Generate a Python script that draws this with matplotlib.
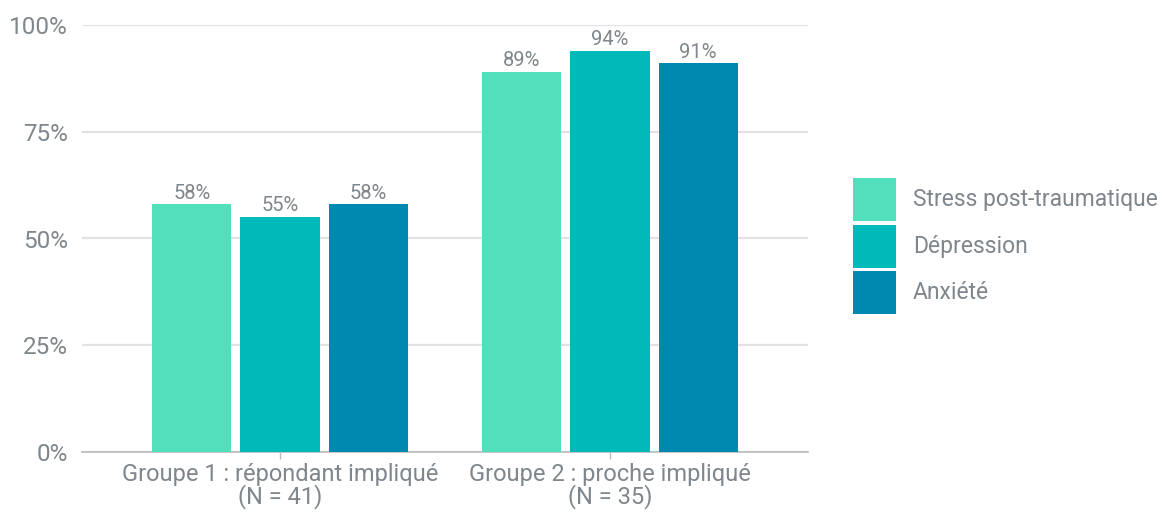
import matplotlib
matplotlib.use("Agg")
import matplotlib.pyplot as plt
import numpy as np

categories = ["Groupe 1 : répondant impliqué\n(N = 41)", "Groupe 2 : proche impliqué\n(N = 35)"]
series_names = ["Stress post-traumatique", "Dépression", "Anxiété"]
stress = [58, 89]
depression = [55, 94]
anxiete = [58, 91]
colors = ["#52E0BC", "#00B9B9", "#0089B0"]
yticks = [0, 25, 50, 75, 100]
ytick_labels = ["0%", "25%", "50%", "75%", "100%"]

plt.rcParams['font.family'] = ['Roboto', 'DejaVu Sans']
text_color = "#7F868C"

W, H = 1162, 512
fig = plt.figure(figsize=(W / 100, H / 100), dpi=100)
ax = fig.add_axes([82 / W, (H - 452) / H, 726 / W, (452 - 25) / H])

x = np.arange(len(categories))
width = 0.24
step = 0.267
for i, (vals, name, c) in enumerate(zip([stress, depression, anxiete], series_names, colors)):
    pos = x + (i - 1) * step
    bars = ax.bar(pos, vals, width=width, color=c, label=name, zorder=3)
    for b, v in zip(bars, vals):
        ax.text(b.get_x() + b.get_width() / 2, v + 0.4, f"{v}%", ha="center", va="bottom",
                fontsize=14.5, color=text_color)

ax.set_xlim(-0.6, 1.6)
ax.set_ylim(0, 100)
ax.set_yticks(yticks)
ax.set_yticklabels(ytick_labels)
ax.set_xticks(x)
ax.set_xticklabels(categories, linespacing=0.92)
ax.yaxis.grid(True, color="#E2E2E2", linewidth=1.6, zorder=0)
ax.set_axisbelow(True)
for s in ["top", "right", "left"]:
    ax.spines[s].set_visible(False)
ax.spines["bottom"].set_color("#B8BCC0")
ax.spines["bottom"].set_linewidth(1.2)
ax.tick_params(axis="y", length=0, pad=10, labelsize=17.5, labelcolor=text_color)
ax.tick_params(axis="x", length=5, width=1, color="#B8BCC0", pad=3, labelsize=17, labelcolor=text_color)

fs = 16.5
fpx = fs * 100 / 72
target = 43 / fpx
hh = (target - 0.245) / 0.65
leg = fig.legend(loc="upper left", bbox_to_anchor=(853 / W, 1 - 178 / H), frameon=False,
                 fontsize=fs, handlelength=target, handleheight=hh, handletextpad=17 / fpx,
                 labelspacing=3.5 / fpx, borderpad=0, borderaxespad=0)
for t in leg.get_texts():
    t.set_color(text_color)

fig.savefig("out.png", dpi=100)
